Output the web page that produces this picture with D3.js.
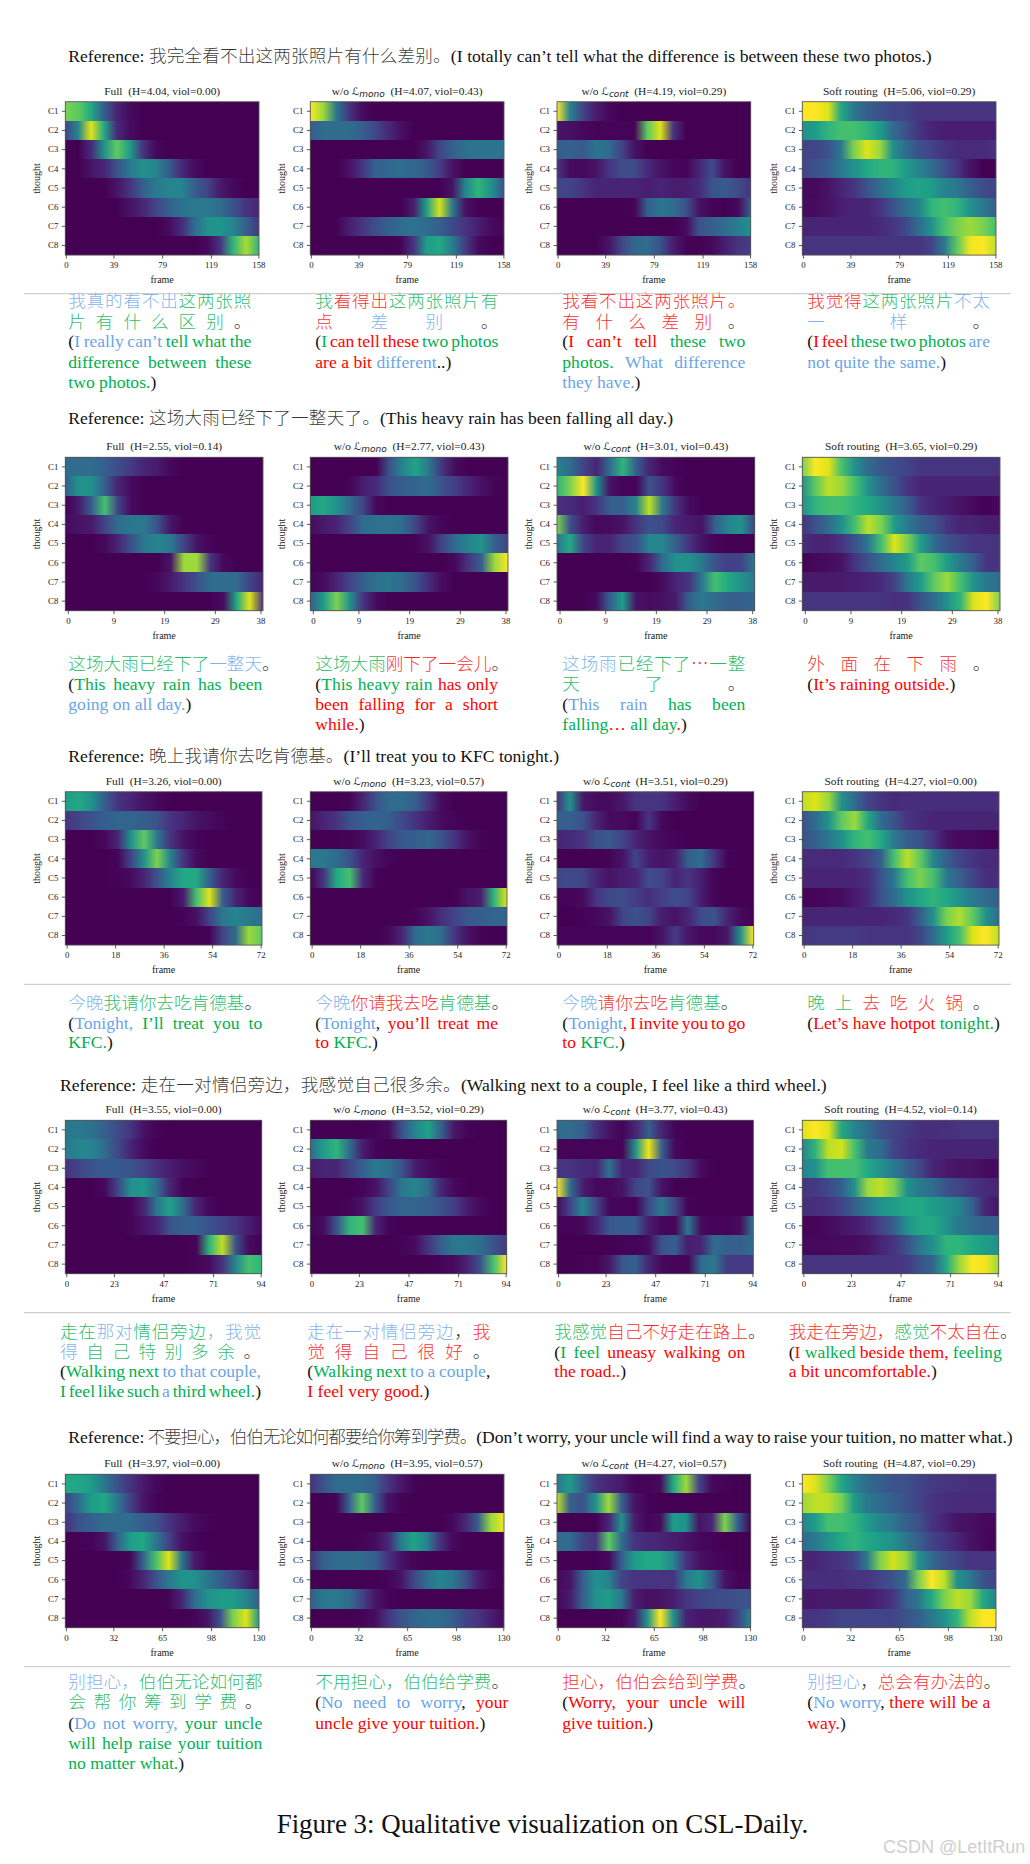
<!DOCTYPE html>
<html>
<head>
<meta charset="utf-8">
<script src="https://cdn.jsdelivr.net/npm/d3@7"></script>
<style>
html, body { margin: 0; padding: 0; background: #fff; }
svg { display: block; }
text { white-space: pre; }
</style>
</head>
<body>
<script>
const thoughts = ["C1", "C2", "C3", "C4", "C5", "C6", "C7", "C8"];
const panelNames = ["Full", "mono", "cont", "Soft routing"];

const frameTicks = [
    [0, 39, 79, 119, 158],
    [0, 9, 19, 29, 38],
    [0, 18, 36, 54, 72],
    [0, 23, 47, 71, 94],
    [0, 32, 65, 98, 130]
];
const entropy = [
    [4.04, 4.07, 4.19, 5.06],
    [2.55, 2.77, 3.01, 3.65],
    [3.26, 3.23, 3.51, 4.27],
    [3.55, 3.52, 3.77, 4.52],
    [3.97, 3.95, 4.27, 4.87]
];
const violation = [
    [0.00, 0.43, 0.29, 0.29],
    [0.14, 0.43, 0.43, 0.29],
    [0.00, 0.57, 0.29, 0.00],
    [0.00, 0.29, 0.43, 0.14],
    [0.00, 0.57, 0.57, 0.29]
];

// activation per thought at 16 evenly spaced places along the time axis (0-10)
const s1Full = [
    [8,7.5,6,3,1,.3,0,0,0,0,0,0,0,0,0,0],
    [2,4.5,9.5,6,1.2,.3,0,0,0,0,0,0,0,0,0,0],
    [0,0,1.2,5,7.5,5.5,1.5,.2,0,0,0,0,0,0,0,0],
    [0,0,.5,1,2.5,4,5,4.5,3,1.2,.3,0,0,0,0,0],
    [0,0,0,0,.5,1.5,3,4,4.5,4.5,3,2,.7,.2,0,0],
    [0,0,0,0,0,.5,1,2,3,3.8,4,4,3.5,2.5,1.5,1],
    [0,0,0,0,0,0,0,0,.3,1.2,3.5,5,5.2,4.5,3,1.5],
    [0,0,0,0,0,0,0,0,0,0,0,.2,1.5,6.5,8.7,6.5]
];
const s1Mono = [
    [10,8.5,4,1.5,.3,0,0,0,0,0,0,0,0,0,0,0],
    [3,3.5,3.5,3.5,3,2.2,1.2,.4,0,0,0,0,0,0,0,0],
    [0,0,0,0,0,0,0,0,0,.5,2,3,3.7,3.8,3.8,3.8],
    [0,0,0,.4,1.5,3,3.3,3.5,3.3,2.8,1.8,.5,0,0,0,0],
    [0,0,0,0,0,0,0,0,0,0,0,.5,4.5,6.5,5,2.5],
    [0,0,0,0,0,0,0,0,.8,5.5,9.3,4,.5,0,0,0],
    [0,0,0,.8,1.5,2.3,3,3.5,3.7,3.5,3,2.2,1.5,.8,.3,.1],
    [0,0,0,0,0,0,0,.1,1.5,5.5,6,4.2,1.8,.3,0,0]
];
const s1Cont = [
    [10,4.5,2,.8,.2,0,0,0,0,0,0,0,0,0,0,0],
    [.5,.4,.2,.1,.1,.1,.1,7.5,9.5,1.5,0,0,0,0,0,0],
    [3,3,2.8,3.8,3.5,2,.5,0,0,0,0,0,0,0,0,0],
    [1.5,.3,.2,.5,1.5,2.3,2.3,1.2,.5,.2,.1,1,2.3,.5,0,0],
    [2,2,1.5,1,1,1,1,.8,1,.8,.8,1.2,2.5,2.8,2.3,1.5],
    [0,0,0,0,0,0,.1,3,3.8,3.5,2.5,.5,.1,0,.2,3],
    [0,0,0,0,0,0,0,0,0,0,.3,2.5,3,3.5,4.2,5],
    [0,0,0,0,.5,2,3.3,3.5,2.5,.8,.1,0,.2,.8,1.5,1.8]
];
const s1Soft = [
    [10,10,9.5,6,4,3,2.5,2,2,1.5,1.5,1.5,1.5,1.5,1.5,1.5],
    [5,5.5,6.5,7,7,6.5,5.5,3.5,2.5,1.5,1,.8,.8,.8,.8,.8],
    [2,2,2.5,4,8,9.5,8.5,5,3.5,2.5,2,1.5,1.2,1.2,1.2,1.5],
    [2,2.5,3,4,5,6,6.5,6.5,5.5,4.5,3.5,2.5,1.5,.5,0,0],
    [.2,.2,.5,1,1.5,2.5,3.5,4.5,5.5,5.8,5.5,4.5,4,3,2.3,2],
    [.3,.3,.5,.8,1,1,1.5,2.5,3.5,4.5,6.5,7,6.5,5,4,3],
    [1,1,1,1,1,1,1.2,1.5,2.2,3.5,5,7,8,8.5,8,7],
    [1.5,1.5,1.5,1.5,1.5,1.5,1.5,1.5,1.5,1.5,2,4,7.5,9.8,10,9]
];

const s2Full = [
    [3.5,3.5,3.5,3,2.3,1.7,1,.7,.2,0,0,0,0,0,0,0],
    [3,5,5,3,1,.3,0,0,0,0,0,0,0,0,0,0],
    [0,.7,3,7,2,.3,0,0,0,0,0,0,0,0,0,0],
    [.3,.5,.7,2,3.5,4,4,2.5,.5,0,0,0,0,0,0,0],
    [0,0,0,.2,1,2.5,4,4.5,4,2,.5,.1,0,0,0,0],
    [0,0,0,0,0,0,0,0,.5,8.5,8.5,1.5,.2,0,0,0],
    [0,0,0,0,0,0,0,.2,.7,1.5,2.5,3.5,3.5,3.5,2,1],
    [0,0,0,0,0,0,0,0,0,0,0,0,.3,6,9.5,1.5]
];
const s2Mono = [
    [0,0,0,0,0,0,2.5,4.5,5.8,4,1.5,.3,0,0,0,0],
    [0,0,0,.1,.8,1.2,2.5,3,3.2,3.5,2.5,1.8,1,.4,.1,0],
    [5.5,6,5,3.5,2,.2,0,0,0,0,0,0,0,0,0,0],
    [.3,.7,1,2,3.5,3.7,3.7,3.5,2,.5,.1,0,0,0,0,0],
    [0,0,0,0,0,0,0,0,.1,.5,2,3.5,4.5,5,3,2],
    [0,0,0,0,0,0,0,0,0,0,0,.2,1.5,3,8.5,10],
    [.1,.3,1,2,3,3.7,3.9,3.5,2.5,1.2,.3,0,0,0,0,0],
    [3,5.5,8,5,1.5,.3,0,0,0,0,0,0,0,0,0,0]
];
const s2Cont = [
    [4.5,3.5,2,1,3.5,6.5,3,1,.3,.1,0,0,0,0,0,0],
    [6.5,8,10,5,.5,.1,.1,2.5,1.5,.2,0,0,0,0,0,0],
    [1.3,1.2,.8,1.5,3,3,4.5,9,4,1.5,.3,0,0,0,0,0],
    [8,2.5,.8,.2,.3,.5,1.5,2.5,2.2,1,.7,.5,3,4.5,5,2],
    [4,6,2,1,1,2,2.5,4.5,4.5,3,1.5,.5,.1,0,0,0],
    [0,0,0,0,0,0,.1,1,3.5,5,5,4,2.5,1.8,2,4],
    [0,0,0,0,0,0,0,0,.3,1,1.5,4,7,6,5,4],
    [0,0,0,.3,3,5.5,.5,.3,.4,.7,3,4,3.5,3,3,3.2]
];
const s2Soft = [
    [8,10,9.5,7,5,3.5,2.7,2.3,2,1.5,1.5,1.5,1.5,1.5,1.5,1.5],
    [5,7.5,9,8.5,7,5,3.5,2.5,1.5,1,1,1,1,1,1,1],
    [5,6.5,7,7,6.5,6,5,4,3,1.5,1,.8,.5,.2,0,.2],
    [1.5,2.5,3.5,5,7,9,8,5.5,4,3,2.5,1.5,1,1,.8,.8],
    [1.3,1,1,1.5,2.5,4,7,9.5,8,5.5,3.5,2.5,2,1.5,1.5,1.5],
    [0,.2,.3,.5,1.5,2.5,3.5,4.5,5.5,7.5,7,5.5,4,3,1.5,1.5],
    [.7,.7,.7,.7,.8,1,1.2,2,4,5.5,7.5,8.5,7,5,4,3.5],
    [1.5,1.5,1.5,1.5,1.5,1.5,1.5,1.3,1.5,2.5,3.5,5,6.5,9.5,10,8]
];

const s3Full = [
    [5.5,6,5,3,1.5,1,.5,.2,0,0,0,0,0,0,0,0],
    [1.5,2,2.5,3,3.2,3.2,3,2.5,1.5,1,.5,.3,.1,0,0,0],
    [0,0,0,.2,1,5,7.5,4,1.5,.5,.1,0,0,0,0,0],
    [0,0,0,0,.1,2,5,8,4.5,1.5,.3,0,0,0,0,0],
    [0,0,0,0,.1,.3,1,2.5,4.5,6,6,3,1,.3,0,0],
    [0,0,0,0,0,0,0,0,0,.7,7,9.5,3,1,.2,0],
    [0,0,0,0,0,0,0,0,0,.1,.4,2,4,4.5,4,3.5],
    [0,0,0,0,0,0,0,0,0,0,0,.1,2,3.5,8.5,7.5]
];
const s3Mono = [
    [0,0,0,.1,1,2.5,3.5,3.5,3,1.5,.3,0,0,0,0,0],
    [.5,1,1.5,2.5,3,3.2,3,2.2,1.5,.8,.3,.1,0,0,0,0],
    [0,0,0,.1,.3,1,2,2.7,3,3.3,2.5,1.5,.5,.1,0,0],
    [4,4,3.5,2.5,1,.4,.1,0,0,0,0,0,0,0,0,0],
    [.1,1.5,6,7,1.2,.1,0,0,0,0,0,0,0,0,0,0],
    [0,0,0,0,0,0,0,0,0,0,0,0,.5,.8,6.5,9.5],
    [0,0,0,0,0,0,0,0,.1,.5,1.3,2,2.7,3,3.2,3.2],
    [0,0,0,0,0,0,.2,1,3.5,4,3.5,1.5,.5,.1,0,0]
];
const s3Cont = [
    [1.5,5,.6,.3,.3,.6,1.5,1.5,1.5,.8,.3,0,0,0,0,0],
    [3,3,2.5,1,.3,.3,.1,1.5,.2,0,0,0,0,0,0,0],
    [1,1.2,1.5,2.5,2.7,2,1,.5,.2,.1,0,0,0,0,0,0],
    [0,0,0,0,.1,.5,2,.8,.5,.8,3,3.5,1.5,.1,0,0],
    [2,2.2,2,1,.5,.8,1,2.3,2,1,1.5,.8,.1,0,0,0],
    [.1,.1,.3,1.5,2.2,2.3,1.8,1.3,1.8,2.3,2,.8,.1,0,0,0],
    [0,0,.1,.2,.5,2,2.5,2,.8,.5,1,2.3,2.5,1,.2,0],
    [.1,.1,.1,.1,.1,.1,.1,.1,.5,1.7,.6,.2,.2,.6,5,10]
];
const s3Soft = [
    [9,9.5,8.5,5,3.5,2,1.5,1.2,1.3,1.3,1.3,1.3,1.3,1.3,1.3,1.3],
    [2.5,3.5,5,7.5,8.5,6,3.5,2.5,1.5,1.2,1,1,1,1,1,1],
    [2.5,3,4,5,6.5,7,6,4,3,2.5,1.5,.5,.2,.2,.1,.1],
    [1.2,1.2,1.2,1.2,1.5,2,3,7,9,7.5,4.5,3,2,1.5,1.2,1.2],
    [1,1,1,1,1,1.3,2.5,4,7,8,7,4,3,2,1.3,1.3],
    [.1,.1,.2,.3,.7,1.2,2.5,3.5,5,6,6.5,6,5,4,3.5,3],
    [1,1,1,1,1,1,1,1.2,1.5,3,5,8,8.8,7.5,5,3.5],
    [1.5,1.7,1.7,1.7,1.7,1.5,1.5,1.5,1.5,2,3.5,5.5,7,9.5,10,9]
];

const s4Full = [
    [4,4,3.7,3,2.3,1.5,.4,.1,0,0,0,0,0,0,0,0],
    [4,4.5,4.5,3.5,2.2,1,.3,0,0,0,0,0,0,0,0,0],
    [1.5,2,2.5,2.8,2.8,2.6,2,1.3,.8,.4,.2,0,0,0,0,0],
    [0,0,0,.2,2,5,5.3,3.5,1,.1,0,0,0,0,0,0],
    [0,0,0,0,0,.1,1,4,5.7,3.5,1,.2,0,0,0,0],
    [0,0,0,0,0,.1,.5,1,2.5,3,3,2.5,2,1.5,.8,.2],
    [0,0,0,0,0,0,0,0,0,0,.1,6.5,9,2.5,.3,0],
    [0,0,0,0,0,0,0,0,0,0,.1,.3,1.5,4.5,7,6.5]
];
const s4Mono = [
    [0,0,0,0,0,.1,.3,2.5,4.5,5.7,3,.6,.1,0,0,0],
    [3.5,5.5,6.5,3.5,.8,.1,0,0,0,0,0,0,0,0,0,0],
    [.7,1,1,2,3,4,3.7,2.5,.8,.3,.1,0,0,0,0,0],
    [0,0,0,0,.1,.5,2,4,4.5,3.5,1,.2,0,0,0,0],
    [0,0,0,.1,.5,1.8,2.7,3.2,3.2,3,2.5,1.8,.7,.2,0,0],
    [.1,.3,2.5,6.5,7,1,.1,0,0,0,0,0,0,0,0,0],
    [0,0,0,0,0,0,0,.1,.3,1.5,3,4,4,3.5,2.5,1.7],
    [0,0,0,0,0,0,0,0,0,0,.1,.3,1,2.5,7,10]
];
const s4Cont = [
    [3.5,3.5,3,1.3,.5,.1,1,3,1,.1,0,0,0,0,0,0],
    [.1,.1,.1,.1,.1,.1,5,9.7,3,.2,0,0,0,0,0,0],
    [1.5,1.5,1.2,1,3.7,1,1,2.2,2.5,2.3,1.5,.3,0,0,0,0],
    [10,3.5,.8,.2,.2,.5,2,2.5,.5,0,0,0,0,0,0,0],
    [.3,2,4.5,2,.2,.1,.1,2.2,4,2,.1,0,0,0,0,0],
    [.1,.1,.2,1,2.7,3,2.8,.8,.2,.1,4,.3,.1,.1,.3,4],
    [0,0,0,0,0,.1,.1,.3,2.5,3,.8,1,3.5,3,3,3.5],
    [0,0,.1,.1,.6,2.7,3,1,.2,.1,.1,3.5,4,1.7,1.7,1.7]
];
const s4Soft = [
    [9.5,10,9.5,6,4.5,3.5,2.5,2,1.7,1.3,1.3,1.4,1.5,1.5,1.5,1.5],
    [4.5,6.5,9,9.3,7,4,3.5,2,1.5,1.2,1,1,1,1,1,1],
    [4.5,5,7,7,7,6,5,4,3,2,1,.7,.5,.5,.3,.3],
    [1.5,1.7,2.2,3,5,8.5,9,8,5,4,3.5,2.5,2,1.5,1.2,1],
    [1.3,1.3,1.5,2,3,4,5,5.5,6,6,5.5,5,4.5,3,1,.5],
    [.1,.1,.3,.5,.7,1.2,2,3,5,6,6,5,4,3.5,3,3],
    [.2,.2,.2,.3,.3,.5,1,1.5,2.5,4,5,6.5,6.5,6,5.5,5],
    [1.5,1.5,1.5,1.5,1.5,1.5,1.5,1.5,1.7,2.5,3.3,6,8.5,10,9.8,8.5]
];

const s5Full = [
    [6,6,5.5,4,2.5,1.5,.7,.2,0,0,0,0,0,0,0,0],
    [2,3.5,5.5,6,4,2,.6,.1,0,0,0,0,0,0,0,0],
    [1.5,2.5,3,3.5,3.5,3.5,3,2.5,1.5,.8,.3,.1,0,0,0,0],
    [0,.1,.1,.5,3,5.5,6,4,2,.5,.1,0,0,0,0,0],
    [0,0,0,0,0,.1,3,7,9.5,4,.7,.1,0,0,0,0],
    [0,0,0,0,0,.2,1,2.5,4,5,5,4,3,2,1,.2],
    [0,0,0,0,0,0,0,0,.1,1,3.5,5,5.5,5.5,4.5,3],
    [0,0,0,0,0,0,0,0,0,0,.1,.5,2.5,8,9.5,5.5]
];
const s5Mono = [
    [1.5,2.5,3.5,3.5,3.5,3,1.5,.6,.1,0,0,0,0,0,0,0],
    [0,0,.1,3,7.5,3,.5,.1,0,0,0,0,0,0,0,0],
    [0,0,0,0,0,0,0,0,0,0,0,.2,1,3,8.5,9.8],
    [0,0,0,0,.1,.3,1,4,5.8,4.5,1.5,.3,0,0,0,0],
    [1.5,3,3.5,3.5,3.5,3,1.5,.5,.1,0,0,0,0,0,0,0],
    [0,0,0,0,0,0,.1,.5,2,3.5,4.5,4,2.5,.8,.2,0],
    [3,4,4,3.5,2,.6,.1,0,0,0,0,0,0,0,0,0],
    [0,0,0,0,.1,.3,1.5,2.5,3.2,3.5,3.5,3,2,1.5,.8,.3]
];
const s5Cont = [
    [4,5.5,3,1.5,1,.7,.1,.1,.3,6,8.5,2,.2,.1,0,0],
    [9,3,2.5,5,8.5,3,.5,.1,0,0,0,0,0,0,0,0],
    [0,0,0,0,1,5,.8,.1,.3,5.5,5,.5,1,8,3,.1],
    [3.5,3.5,2,1.5,7.5,3.5,1.5,1.2,1,.8,.5,.2,.1,0,0,0],
    [0,0,0,0,.2,3,5.5,6,6,4.5,1.5,.5,.2,.1,0,0],
    [.2,.5,3,5,4.5,2,1.5,1.5,1.5,1.5,4,5,3,.5,.1,.1],
    [.2,.7,3,5,5.5,4,.8,.4,.5,.8,1.5,2,2.2,2.3,2.5,2.5],
    [0,0,0,0,0,.1,.8,5,10,5,.9,.6,.6,.8,2,4.5]
];
const s5Soft = [
    [10,9.5,8,6,4.5,3.5,3,2.5,2.5,2,1.7,1.5,1.5,1.3,1.3,1.3],
    [8.5,9,9,8,5.5,4,3.5,3,2.5,2,1.5,1.3,1.2,1.2,1.2,1.2],
    [4.5,5.5,7,7,6.5,5.5,4.5,4,3,2.5,1.5,1,.5,.4,.2,.2],
    [3.5,4,5,6,6.5,6,5.5,5,4,3,2,1.5,1,.5,.2,.1],
    [1,1,1.3,1.5,2,4,8,9.3,8.5,5,3.5,2.5,2,1.5,1.5,1.5],
    [1.3,1.3,1.3,1.3,1.5,1.5,2,2.5,3.5,8,10,9,5,4,2.5,2],
    [.7,.6,.7,.7,.7,.7,1,1.5,3,4,6,8,9,8.5,6,4.5],
    [1.5,1.5,1.7,2,2,2,2,2,2.5,3,4,5,6.5,9,10,10]
];

const heatmaps = [
    [s1Full, s1Mono, s1Cont, s1Soft],
    [s2Full, s2Mono, s2Cont, s2Soft],
    [s3Full, s3Mono, s3Cont, s3Soft],
    [s4Full, s4Mono, s4Cont, s4Soft],
    [s5Full, s5Mono, s5Cont, s5Soft]
];

const B = "#6aa5e6", G = "#00b050", R = "#ff0000", K = "#111";

const referenceLines = [
    [["Reference: 我完全看不出这两张照片有什么差别。(I totally can’t tell what the difference is between these two photos.)", K]],
    [["Reference: 这场大雨已经下了一整天了。(This heavy rain has been falling all day.)", K]],
    [["Reference: 晚上我请你去吃肯德基。(I’ll treat you to KFC tonight.)", K]],
    [["Reference: 走在一对情侣旁边，我感觉自己很多余。(Walking next to a couple, I feel like a third wheel.)", K]],
    [["Reference: 不要担心，伯伯无论如何都要给你筹到学费。(Don’t worry, your uncle will find a way to raise your tuition, no matter what.)", K]]
];

// each output: lines of coloured runs; a "=" first entry marks a line set to the full column width
const outputs1 = [
    [["=", ["我真的看不出", B], ["这两张照", G]],
     ["=", ["片有什么区别", G], ["。", K]],
     ["=", ["(", K], ["I really can’t ", B], ["tell what the", G]],
     ["=", ["difference between these", G]],
     [["two photos.", G], [")", K]]],
    [["=", ["我", G], ["看得出", R], ["这两张照片有", G]],
     ["=", ["点", R], ["差别", B], ["。", K]],
     ["=", ["(", K], ["I ", G], ["can tell these ", R], ["two photos", G]],
     [["are a bit ", R], ["different", B], ["..)", K]]],
    [["=", ["我看不出这两张照片。", R]],
     ["=", ["有什么差别", R], ["。", K]],
     ["=", ["(", K], ["I can’t tell ", R], ["these two", G]],
     ["=", ["photos. ", G], ["What difference", B]],
     [["they have.", B], [")", K]]],
    [["=", ["我觉得", R], ["这两张照片", G], ["不太", B]],
     ["=", ["一样", B], ["。", K]],
     ["=", ["(", K], ["I feel ", R], ["these two photos ", G], ["are", B]],
     [["not quite the same.", B], [")", K]]]
];
const outputs2 = [
    [[["这场大雨已经下了", G], ["一整天", B], ["。", K]],
     ["=", ["(", K], ["This heavy rain has been", G]],
     [["going on all day.", B], [")", K]]],
    [[["这场大雨", G], ["刚下了一会儿", R], ["。", K]],
     ["=", ["(", K], ["This heavy rain ", G], ["has only", R]],
     ["=", ["been falling for a short", R]],
     [["while.", R], [")", K]]],
    [["=", ["这场雨", B], ["已经下了", G], ["⋯", R], ["一整", G]],
     ["=", ["天了", G], ["。", K]],
     ["=", ["(", K], ["This rain ", B], ["has been", G]],
     [["falling", G], ["… ", R], ["all day", G], [".", R], [")", K]]],
    [["=", ["外面在下雨", R], ["。", K]],
     [["(", K], ["It’s raining outside.", R], [")", K]]]
];
const outputs3 = [
    [[["今晚", B], ["我请你去吃肯德基", G], ["。", K]],
     ["=", ["(", K], ["Tonight, ", B], ["I’ll treat you to", G]],
     [["KFC.", G], [")", K]]],
    [[["今晚", B], ["你请我去吃", R], ["肯德基", G], ["。", K]],
     ["=", ["(", K], ["Tonight", B], [", ", K], ["you’ll treat me", R]],
     [["to ", R], ["KFC.", G], [")", K]]],
    [[["今晚", B], ["请你去吃", R], ["肯德基", G], ["。", K]],
     ["=", ["(", K], ["Tonight", B], [", I invite you to go", R]],
     [["to ", R], ["KFC.", G], [")", K]]],
    [["=", ["晚上", G], ["去吃火锅", R], ["。", K]],
     [["(", K], ["Let’s have hotpot ", R], ["tonight.", G], [")", K]]]
];
const outputs4 = [
    [["=", ["走在", G], ["那对", B], ["情侣旁边", G], ["，我觉", B]],
     ["=", ["得", B], ["自己特别多余", G], ["。", K]],
     ["=", ["(", K], ["Walking next ", G], ["to that couple,", B]],
     ["=", ["I feel like such ", G], ["a ", B], ["third wheel.", G], [")", K]]],
    [["=", ["走在一对情侣旁边", B], ["，", K], ["我", R]],
     ["=", ["觉得自己很好", R], ["。", K]],
     ["=", ["(", K], ["Walking next ", G], ["to a couple", B], [",", K]],
     [["I feel very good.", R], [")", K]]],
    [[["我感觉", G], ["自己不好走在路上", R], ["。", K]],
     ["=", ["(", K], ["I feel ", G], ["uneasy walking on", R]],
     [["the road..", R], [")", K]]],
    [[["我走在旁边，", R], ["感觉", G], ["不太自在", R], ["。", K]],
     ["=", ["(", K], ["I ", R], ["walked ", G], ["beside them, ", R], ["feeling", G]],
     [["a bit uncomfortable.", R], [")", K]]]
];
const outputs5 = [
    [["=", ["别担心，", B], ["伯伯无论如何都", G]],
     ["=", ["会帮你筹到学费", G], ["。", K]],
     ["=", ["(", K], ["Do not worry, ", B], ["your uncle", G]],
     ["=", ["will help raise your tuition", G]],
     [["no matter what.", G], [")", K]]],
    [[["不用担心，伯伯给学费", G], ["。", K]],
     ["=", ["(", K], ["No need to worry", B], [", ", K], ["your", R]],
     [["uncle give your tuition.", R], [")", K]]],
    [[["担心，伯伯会给到学费", R], ["。", K]],
     ["=", ["(", K], ["Worry, your uncle will", R]],
     [["give tuition.", R], [")", K]]],
    [[["别担心", B], ["，", K], ["总会有办法的", R], ["。", K]],
     ["=", ["(", K], ["No worry", B], [", ", K], ["there will be a", R]],
     [["way.", R], [")", K]]]
];
const outputs = [outputs1, outputs2, outputs3, outputs4, outputs5];

const captionText = "Figure 3: Qualitative visualization on CSL-Daily.";
const watermarkText = "CSDN @LetItRun";

// layout
const WIDTH = 1030, HEIGHT = 1864;
const SERIF = "'Liberation Serif', 'Noto Sans CJK SC', serif";
const CJK = "'Noto Sans CJK SC', sans-serif";
const TEXT_SIZE = 17.6;

const panelLeft = [65.3, 310.3, 557, 802.3];
const panelWidth = [193.7, 197.7, 196.7, 196.4, 193.7];
const panelTop = [101.7, 457.3, 791.7, 1120.3, 1474.3];
const panelHeight = 153.4;
const refLayout = [
    {x: 68.3, y: 62, w: 863.4},
    {x: 68.3, y: 424, w: 604.7},
    {x: 68.3, y: 762, w: 490.7},
    {x: 60, y: 1091, w: 766.7},
    {x: 68.3, y: 1443, w: 944.4}
];
const ruleY = [293.7, null, 984.3, 1312.7, 1666.7];
const outputX = [
    [68.3, 315.3, 562.3, 807.3],
    [68.3, 315.3, 562.3, 807.3],
    [68.3, 315.3, 562.3, 807.3],
    [60, 307.3, 554.3, 788.7],
    [68.3, 315.3, 562.3, 807.3]
];
const outputW = [
    [183, 183, 183, 182.7],
    [194, 182.7, 183, 183],
    [194, 182.7, 183, 183],
    [201, 183, 191, 213],
    [194, 193, 183, 183]
];
const outputY = [
    [307, 328, 347, 368, 388],
    [670, 690, 710, 730],
    [1009, 1029, 1048],
    [1337.7, 1357.7, 1376.7, 1396.7],
    [1688, 1708, 1729, 1749.3, 1769.3]
];

const colorScale = d3.scaleSequential(d3.interpolateViridis).domain([0, 10]);

const svg = d3.select("body").append("svg")
    .attr("width", WIDTH)
    .attr("height", HEIGHT)
    .attr("viewBox", `0 0 ${WIDTH} ${HEIGHT}`)
    .style("background", "#fff");
const defs = svg.append("defs");

const CJK_CHARS = "\\u2e80-\\u9fff\\uff00-\\uffef\\u22ef";
const tokenRe = new RegExp(`[${CJK_CHARS}]|[^\\s${CJK_CHARS}]+|\\s+`, "g");
const isCjk = new RegExp(`^[${CJK_CHARS}]$`);

// one line of mixed text; when fit is set the gaps are stretched so the line fills width
function drawLine(g, runs, x, y, width, fit) {
    const tokens = [];
    let pendingSpace = false;
    runs.forEach(([str, color]) => {
        (str.match(tokenRe) || []).forEach(t => {
            if (/^\s+$/.test(t)) { pendingSpace = true; return; }
            tokens.push({t, color, cjk: isCjk.test(t), space: pendingSpace});
            pendingSpace = false;
        });
    });

    const text = g.append("text").attr("y", y).attr("font-size", TEXT_SIZE);
    const spans = text.selectAll("tspan")
        .data(tokens)
        .join("tspan")
        .attr("fill", d => d.color)
        .attr("font-family", d => d.cjk ? CJK : SERIF)
        .attr("font-weight", d => d.cjk ? 300 : 400)
        .attr("fill-opacity", d => d.cjk ? 0.85 : 1)
        .text(d => d.t);
    spans.each(function(d) { d.w = this.getComputedTextLength(); });

    const spaceW = TEXT_SIZE * 0.25;
    let natural = 0, stretch = 0;
    tokens.forEach((d, i) => {
        natural += d.w;
        if (i === 0) return;
        d.gap = d.space ? spaceW : 0;
        d.grow = d.space || d.cjk || tokens[i - 1].cjk;
        natural += d.gap;
        if (d.grow) stretch++;
    });
    const extra = fit && stretch ? (width - natural) / stretch : 0;

    let cursor = x;
    spans.attr("x", (d, i) => {
        if (i > 0) cursor += d.gap + (d.grow ? extra : 0);
        const at = cursor;
        cursor += d.w;
        return at;
    });
}

function drawOutput(g, lines, x, ys, width) {
    lines.forEach((line, i) => {
        const fit = line[0] === "=";
        drawLine(g, fit ? line.slice(1) : line, x, ys[i], width, fit);
    });
}

function drawTitle(g, name, h, viol, cx, y) {
    const text = g.append("text")
        .attr("x", cx)
        .attr("y", y)
        .attr("text-anchor", "middle")
        .attr("font-family", SERIF)
        .attr("font-size", 11.4)
        .attr("fill", "#222");
    if (name === "mono" || name === "cont") {
        text.append("tspan").text("w/o ");
        text.append("tspan").attr("font-family", "'DejaVu Sans'").attr("font-size", 10.5).text("ℒ");
        text.append("tspan")
            .attr("font-family", "'DejaVu Sans'")
            .attr("font-style", "italic")
            .attr("font-size", 9)
            .attr("dy", 1.8)
            .text(name);
        text.append("tspan").attr("dy", -1.8).text(`  (H=${h.toFixed(2)}, viol=${viol.toFixed(2)})`);
    } else {
        text.append("tspan").text(`${name}  (H=${h.toFixed(2)}, viol=${viol.toFixed(2)})`);
    }
}

function drawHeatmap(values, rowIdx, colIdx) {
    const left = panelLeft[colIdx], top = panelTop[rowIdx], w = panelWidth[rowIdx];
    const ticks = frameTicks[rowIdx];
    const x = d3.scaleLinear().domain([-0.5, ticks[ticks.length - 1] + 0.5]).range([left, left + w]);
    const y = d3.scaleBand().domain(thoughts).range([top, top + panelHeight]);

    const g = svg.append("g").attr("class", `heatmap r${rowIdx} c${colIdx}`);

    values.forEach((row, k) => {
        const grad = defs.append("linearGradient").attr("id", `g${rowIdx}-${colIdx}-${k}`);
        grad.selectAll("stop")
            .data(row)
            .join("stop")
            .attr("offset", (d, i) => `${100 * i / (row.length - 1)}%`)
            .attr("stop-color", d => colorScale(d));
    });

    g.selectAll("rect.cell")
        .data(values)
        .join("rect")
        .attr("class", "cell")
        .attr("x", left)
        .attr("y", (d, k) => y(thoughts[k]))
        .attr("width", w)
        .attr("height", y.bandwidth())
        .attr("shape-rendering", "crispEdges")
        .attr("fill", (d, k) => `url(#g${rowIdx}-${colIdx}-${k})`);

    g.append("rect")
        .attr("x", left).attr("y", top)
        .attr("width", w).attr("height", panelHeight)
        .attr("fill", "none")
        .attr("stroke", "#555")
        .attr("stroke-width", 0.9);

    const xAxis = g.append("g")
        .attr("transform", `translate(0,${top + panelHeight})`)
        .call(d3.axisBottom(x).tickValues(ticks).tickFormat(d3.format("d")).tickSize(3.5).tickPadding(3.5));
    const yAxis = g.append("g")
        .attr("transform", `translate(${left},0)`)
        .call(d3.axisLeft(y).tickSize(3.5).tickPadding(3.5));
    [xAxis, yAxis].forEach(axis => {
        axis.select(".domain").remove();
        axis.selectAll("line").attr("stroke", "#333").attr("stroke-width", 0.8);
        axis.selectAll("text")
            .attr("font-family", SERIF)
            .attr("font-size", 8.8)
            .attr("fill", "#222");
    });

    g.append("text")
        .attr("x", left + w / 2)
        .attr("y", top + panelHeight + 28.3)
        .attr("text-anchor", "middle")
        .attr("font-family", SERIF)
        .attr("font-size", 10)
        .attr("fill", "#222")
        .text("frame");
    g.append("text")
        .attr("transform", `translate(${left - 25.5},${top + panelHeight / 2}) rotate(-90)`)
        .attr("text-anchor", "middle")
        .attr("font-family", SERIF)
        .attr("font-size", 10)
        .attr("fill", "#222")
        .text("thought");

    drawTitle(g, panelNames[colIdx], entropy[rowIdx][colIdx], violation[rowIdx][colIdx], left + w / 2, top - 7);
}

heatmaps.forEach((row, r) => {
    const block = svg.append("g").attr("class", `block b${r}`);
    drawLine(block, referenceLines[r], refLayout[r].x, refLayout[r].y, refLayout[r].w, true);

    row.forEach((values, c) => {
        drawHeatmap(values, r, c);
        drawOutput(block, outputs[r][c], outputX[r][c], outputY[r], outputW[r][c]);
    });

    if (ruleY[r] !== null) {
        block.append("line")
            .attr("x1", 24).attr("x2", 1010.7)
            .attr("y1", ruleY[r]).attr("y2", ruleY[r])
            .attr("stroke", "#c4c4c4")
            .attr("stroke-width", 1);
    }
});

svg.append("text")
    .attr("x", 276.7)
    .attr("y", 1832.7)
    .attr("font-family", SERIF)
    .attr("font-size", 26.9)
    .attr("fill", "#111")
    .text(captionText);

svg.append("text")
    .attr("x", 883)
    .attr("y", 1852.7)
    .attr("font-family", "'Liberation Sans', sans-serif")
    .attr("font-size", 18)
    .attr("fill", "#cfcfcf")
    .text(watermarkText);
</script>
</body>
</html>
